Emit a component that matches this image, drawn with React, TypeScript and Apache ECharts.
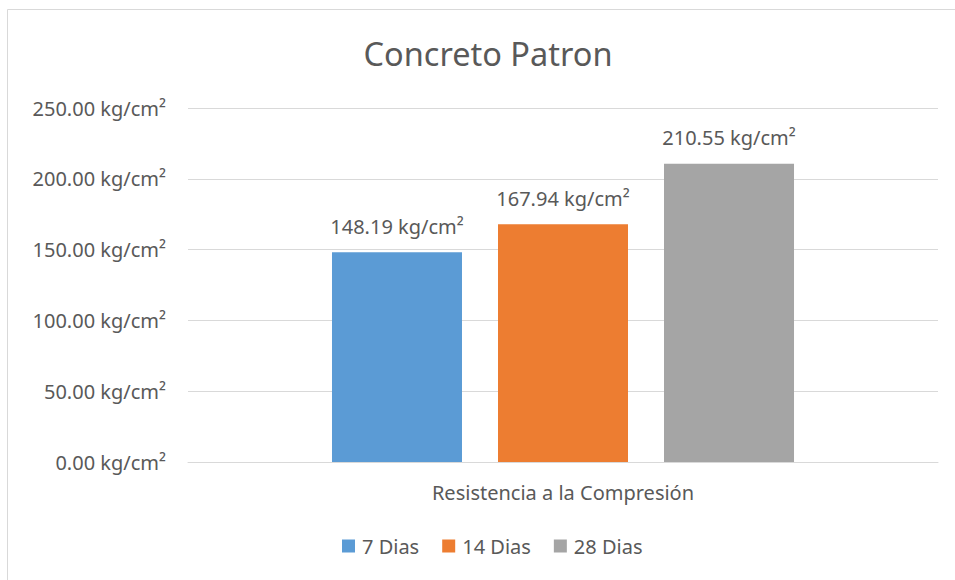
import React, { useEffect, useRef } from "react";
import * as echarts from "echarts";

const categories = ["Resistencia a la Compresión"];
const seriesNames = ["7 Dias", "14 Dias", "28 Dias"];
const values7 = [148.19];
const values14 = [167.94];
const values28 = [210.55];
const colors = ["#5b9bd5", "#ed7d31", "#a5a5a5"];
const yTicks = { min: 0, max: 250, interval: 50 };

const FONT = "Noto Sans";
const TXT = "#595959";

export default function App() {
  const ref = useRef<HTMLDivElement>(null);
  useEffect(() => {
    document.body.style.margin = "0";
    const chart = echarts.init(ref.current!, null, { renderer: "svg" });
    const data = [values7, values14, values28];
    chart.setOption({
      animation: false,
      backgroundColor: "#ffffff",
      textStyle: { fontFamily: FONT },
      title: {
        text: "Concreto Patron",
        left: 483,
        top: 32,
        textAlign: "center",
        textStyle: { fontFamily: FONT, fontSize: 32.5, fontWeight: "normal", color: TXT },
      },
      graphic: [
        {
          type: "rect",
          shape: { x: 7.5, y: 9.5, width: 1000, height: 1000 },
          style: { fill: "none", stroke: "#d9d9d9", lineWidth: 1 },
          silent: true,
        },
      ],
      legend: {
        data: seriesNames,
        left: 342,
        top: 536,
        padding: 0,
        icon: "rect",
        itemWidth: 13,
        itemHeight: 13,
        itemGap: 23,
        textStyle: { fontFamily: FONT, fontSize: 20, color: TXT, padding: [0, 0, 0, 2] },
      },
      grid: { left: 188, right: 17, top: 108, bottom: 118, containLabel: false },
      xAxis: {
        type: "category",
        data: categories,
        axisLine: { lineStyle: { color: "#d9d9d9", width: 1 } },
        axisTick: { show: false },
        axisLabel: { fontFamily: FONT, fontSize: 20, color: TXT, margin: 20 },
      },
      yAxis: {
        type: "value",
        min: yTicks.min,
        max: yTicks.max,
        interval: yTicks.interval,
        axisLine: { show: false },
        axisTick: { show: false },
        splitLine: { lineStyle: { color: "#d9d9d9", width: 1 } },
        axisLabel: {
          fontFamily: FONT,
          fontSize: 20,
          color: TXT,
          margin: 22,
          formatter: (v: number) => v.toFixed(2) + " kg/cm²",
        },
      },
      series: seriesNames.map((name, i) => ({
        name,
        type: "bar",
        data: data[i],
        barWidth: 130,
        barGap: "27.7%",
        itemStyle: { color: colors[i] },
        label: {
          show: true,
          position: "top",
          distance: 16,
          fontFamily: FONT,
          fontSize: 20,
          color: TXT,
          formatter: (p: any) => p.value.toFixed(2) + " kg/cm²",
        },
      })),
    });
    return () => chart.dispose();
  }, []);
  return (
    <div
      ref={ref}
      style={{ position: "fixed", left: 0, top: 0, width: 955, height: 580 }}
    />
  );
}
